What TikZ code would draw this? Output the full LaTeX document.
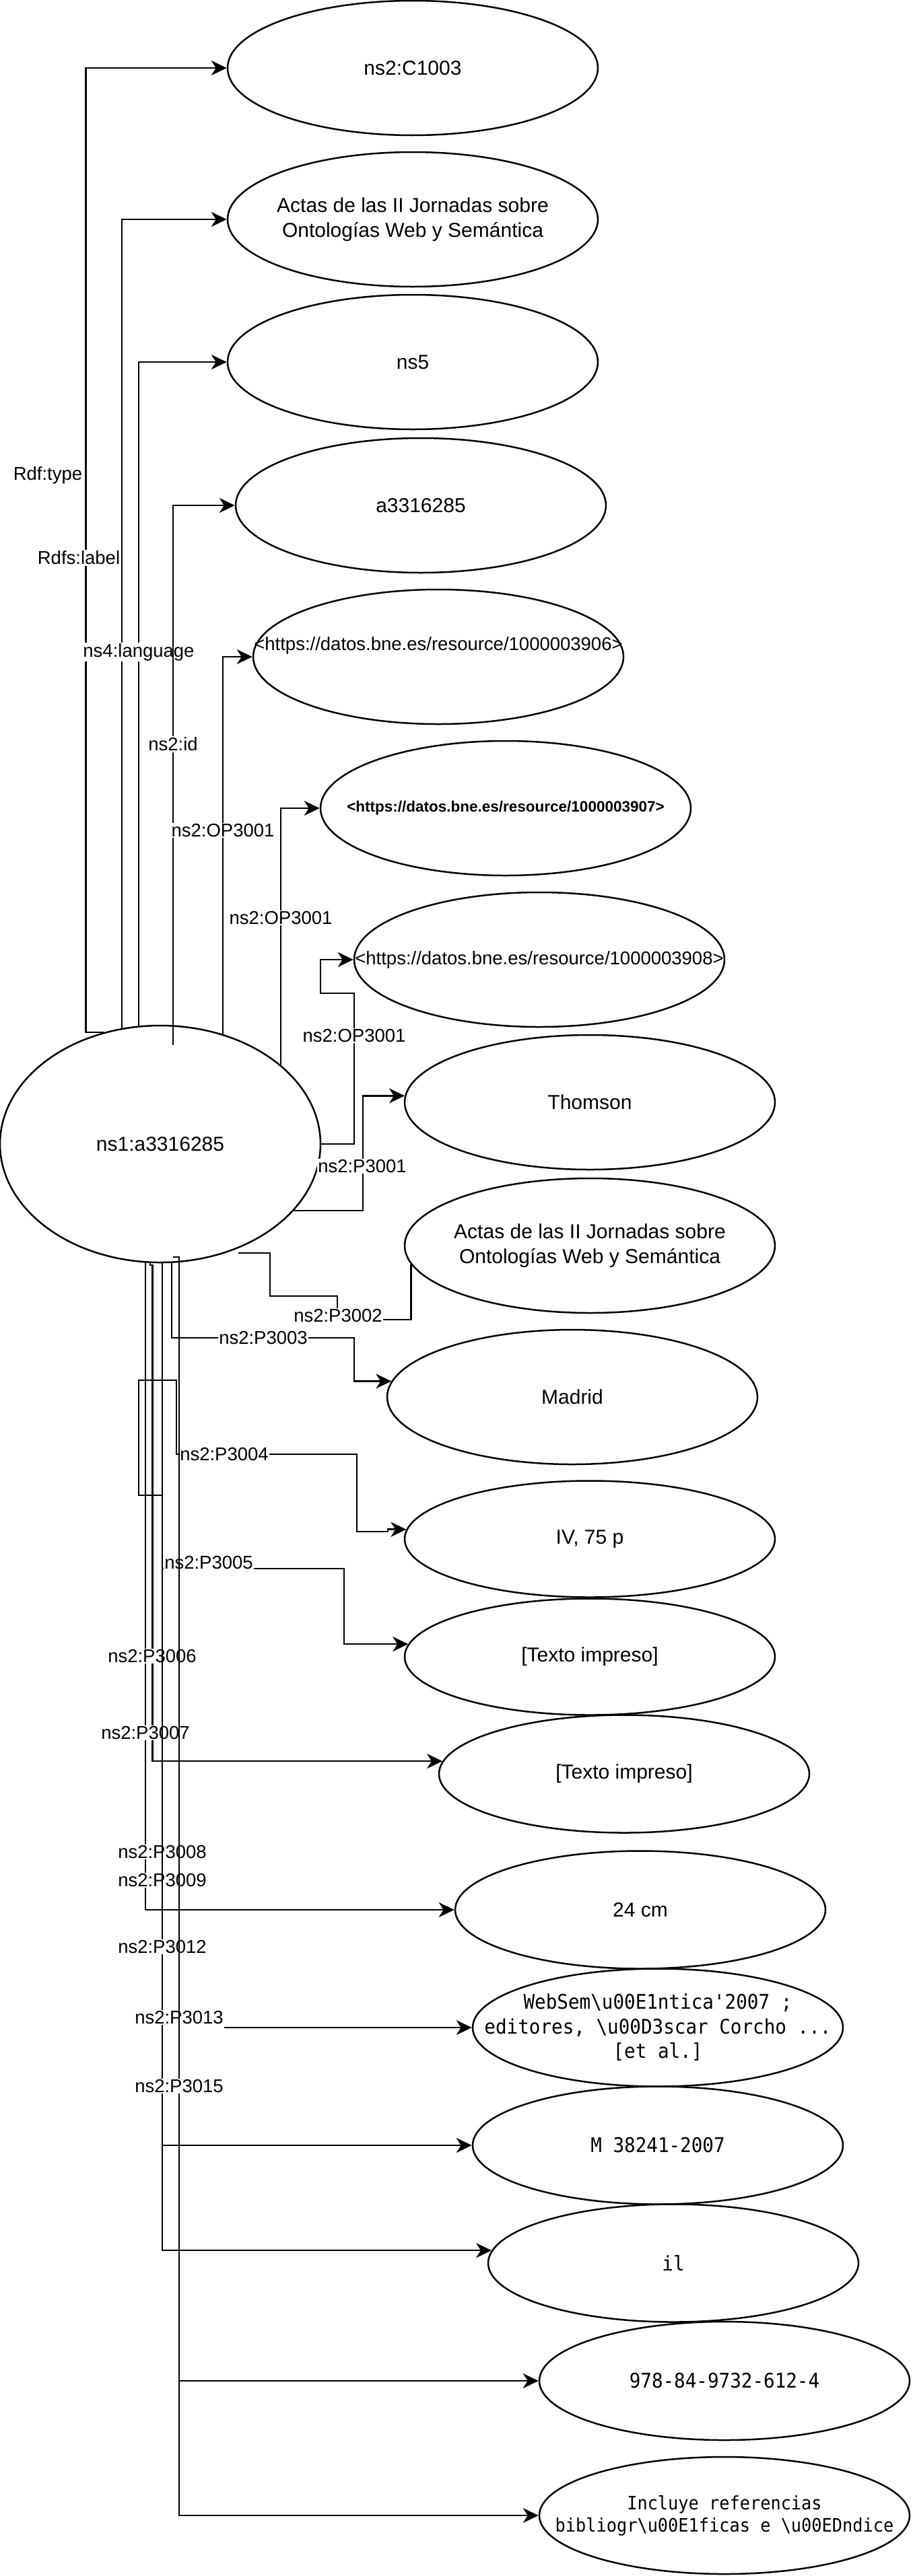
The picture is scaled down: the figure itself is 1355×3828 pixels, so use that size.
\documentclass[tikz,border=0pt]{standalone}
\usepackage{fontspec}
\setmainfont{Liberation Sans}
\setmonofont[FakeStretch=0.92]{DejaVu Sans Mono}
\usetikzlibrary{shapes.geometric,arrows.meta}
\pgfdeclarelayer{bg}
\pgfdeclarelayer{fg}
\pgfsetlayers{bg,main,fg}
\newcommand\ndfont{\fontsize{30}{36.5}\selectfont}
\newcommand\lbfnt{\fontsize{27.5}{33}\selectfont}
\newcommand\bsl{\textbackslash}
\begin{document}
\begin{tikzpicture}[x=1pt,y=-1pt,
  ell/.style={draw, ellipse, line width=2.5pt, fill=white, minimum width=550pt, minimum height=#1, inner sep=0pt},
  edge/.style={line width=2.5pt},
  arr/.style={line width=2.5pt, -{Stealth[length=23pt,width=22pt,inset=7pt]}},
  elab/.style={fill=white, inner sep=1.5pt, font=\lbfnt},
  txt/.style={font=\ndfont, align=center, inner sep=0pt},
  mono/.style={font=\ttfamily\ndfont, align=center, inner sep=0pt},
  monos/.style={font=\ttfamily\lbfnt, align=center, inner sep=0pt},
]
\useasboundingbox (0,0) rectangle (1355,3828);

% ---------- nodes ----------
\node[ell=200pt] (c1003) at (613,101) {};
\node[txt] (c1003t) at (c1003.center) {ns2:C1003};
\node[ell=200pt] (actas1) at (613,326) {};
\node[txt] (actas1t) at (actas1.center) {Actas de las II Jornadas sobre\\Ontologías Web y Semántica};
\node[ell=200pt] (ns5) at (613,538) {};
\node[txt] (ns5t) at (ns5.center) {ns5};
\node[ell=200pt] (a33) at (625,751) {};
\node[txt] (a33t) at (a33.center) {a3316285};
\node[ell=200pt] (u3906) at (651,976) {};
\node[txt, font=\lbfnt] (u3906t) at ([yshift=17pt]u3906.center) {<https://datos.bne.es/resource/1000003906>};
\node[ell=200pt] (u3907) at (751,1201) {};
\node[txt, font=\fontsize{22.5}{27}\selectfont\bfseries] (u3907t) at (u3907.center) {<https://datos.bne.es/resource/1000003907>};
\node[ell=200pt] (u3908) at (801,1426) {};
\node[txt, font=\lbfnt] (u3908t) at (u3908.center) {<https://datos.bne.es/resource/1000003908>};

\node[draw, ellipse, line width=2.5pt, fill=white, minimum width=476pt, minimum height=352pt, inner sep=0pt] (ns1) at (238,1700) {};
\node[txt] (ns1t) at (ns1.center) {ns1:a3316285};

\node[ell=200pt] (thomson) at (876,1638) {};
\node[txt] (thomsont) at (thomson.center) {Thomson};
\node[ell=200pt] (actas2) at (876,1851) {};
\node[txt] (actas2t) at (actas2.center) {Actas de las II Jornadas sobre\\Ontologías Web y Semántica};
\node[ell=200pt] (madrid) at (850,2076) {};
\node[txt] (madridt) at (madrid.center) {Madrid};
\node[ell=173pt] (iv) at (876,2287) {};
\node[txt] (ivt) at (iv.center) {IV, 75 p};
\node[ell=173pt] (texto1) at (876,2462) {};
\node[txt] (texto1t) at (texto1.center) {[Texto impreso]};
\node[ell=175pt] (texto2) at (927,2636) {};
\node[txt] (texto2t) at (texto2.center) {[Texto impreso]};
\node[ell=175pt] (cm24) at (951,2838) {};
\node[txt] (cm24t) at (cm24.center) {24 cm};
\node[ell=175pt] (websem) at (977,3013) {};
\node[mono] (websemt) at (websem.center) {WebSem\bsl u00E1ntica'2007 ;\\editores, \bsl u00D3scar Corcho ...\\{}[et al.]};
\node[ell=175pt] (m38) at (977,3188) {};
\node[mono] (m38t) at (m38.center) {M 38241-2007};
\node[ell=175pt] (il) at (1000,3363) {};
\node[mono] (ilt) at (il.center) {il};
\node[ell=176pt] (isbn) at (1076,3538) {};
\node[mono] (isbnt) at (isbn.center) {978-84-9732-612-4};
\node[ell=174pt] (incl) at (1076,3738) {};
\node[monos] (inclt) at (incl.center) {Incluye referencias\\bibliogr\bsl u00E1ficas e \bsl u00EDndice};

% ---------- edge labels ----------
\node[elab] (lrdftype) at (71,706) {Rdf:type};
\node[elab] (lrdfslabel) at (117,829) {Rdfs:label};
\node[elab] (llang) at (206,969) {ns4:language};
\node[elab] (lid) at (257,1106) {ns2:id};
\node[elab] (lop1) at (331,1234) {ns2:OP3001};
\node[elab] (lop2) at (417,1364) {ns2:OP3001};
\node[elab] (lop3) at (526,1539) {ns2:OP3001};
\node[elab] (lp3001) at (538,1733) {ns2:P3001};
\node[elab] (lp3002) at (502,1955) {ns2:P3002};
\node[elab] (lp3003) at (391,1988) {ns2:P3003};
\node[elab] (lp3004) at (333,2161) {ns2:P3004};
\node[elab] (lp3005) at (310,2322) {ns2:P3005};
\node[elab] (lp3006) at (226,2461) {ns2:P3006};
\node[elab] (lp3007) at (216,2575) {ns2:P3007};
\node[elab] (lp3008) at (241,2752) {ns2:P3008};
\node[elab] (lp3009) at (241,2794) {ns2:P3009};
\node[elab] (lp3012) at (241,2893) {ns2:P3012};
\node[elab] (lp3013) at (266,2998) {ns2:P3013};
\node[elab] (lp3015) at (266,3100) {ns2:P3015};

\coordinate (p2s) at (354,1862);

% ---------- connectors (under nodes and labels) ----------
\begin{pgfonlayer}{bg}
\fill[white] (0,0) rectangle (1355,3828);
\draw[arr] (ns1.117.7) -- ++(-26,0) |- (c1003.west);
\draw[arr] ([xshift=-57pt]ns1.center) |- (actas1.west);
\draw[arr] ([xshift=-32pt]ns1.center) |- (ns5.west);
\draw[arr] ([xshift=19pt]ns1.center) |- (a33.west);
\draw[arr] ([xshift=93pt]ns1.center) |- (u3906.west);
\draw[arr] ([xshift=179pt]ns1.center) |- (u3907.west);
\draw[arr] (ns1.east) -- (526,1700) -- (526,1476) -- (476,1476) |- (u3908.west);
\draw[arr] ([yshift=-99pt]ns1.center) -- (539,1799) |- (thomson.178.3);
\draw[edge] (p2s) -- (401,1862) -- (401,1926) -- (501,1926) -- (501,1961) -| (actas2.186);
\draw[arr] ([xshift=17pt]ns1.center) -- (255,1988) -- (526,1988) |- (madrid.175.75);
\draw[arr] ([xshift=3pt]ns1.center) -- (241,2222) -- (206,2222) -- (206,2051) -- (262,2051) -- (262,2161) -- (530,2161) -- (530,2276) -- (576,2276) |- (iv.177.05);
\draw[arr] ([xshift=3pt]ns1.center) -- (241,2331) -- (511,2331) |- (texto1.176.6);
\draw[arr] ([xshift=-15pt]ns1.center) -- (223,1880) -- (226.5,1880) |- (texto2.176.6);
\draw[arr] ([xshift=-22pt]ns1.center) |- (cm24.west);
\draw[arr] ([xshift=3pt]ns1.center) |- (m38.west);
\draw[arr] ([xshift=3pt]ns1.center) |- (il.176);
\draw[arr] ([xshift=19pt,yshift=-168pt]ns1.center) -- ++(9,0) |- (isbn.west);
\draw[arr] ([xshift=19pt,yshift=-168pt]ns1.center) -- ++(9,0) |- (incl.west);
\draw[arr] (lp3013.east |- websem.west) -- (websem.west);
\end{pgfonlayer}

% ---------- connector parts drawn over labels ----------
\begin{pgfonlayer}{fg}
\draw[edge] ([xshift=19pt,yshift=147pt]ns1.center) -- ([xshift=19pt]ns1.north);
\draw[edge] (llang.north -| lid.center) -- (llang.south -| lid.center);
\draw[edge] ([xshift=3pt]ns1.south) -- ++(0,984);
\draw[edge] ([xshift=19pt,yshift=-168pt]ns1.center) -- ++(9,0) -- ++(0,1212);
\end{pgfonlayer}
\end{tikzpicture}
\end{document}
